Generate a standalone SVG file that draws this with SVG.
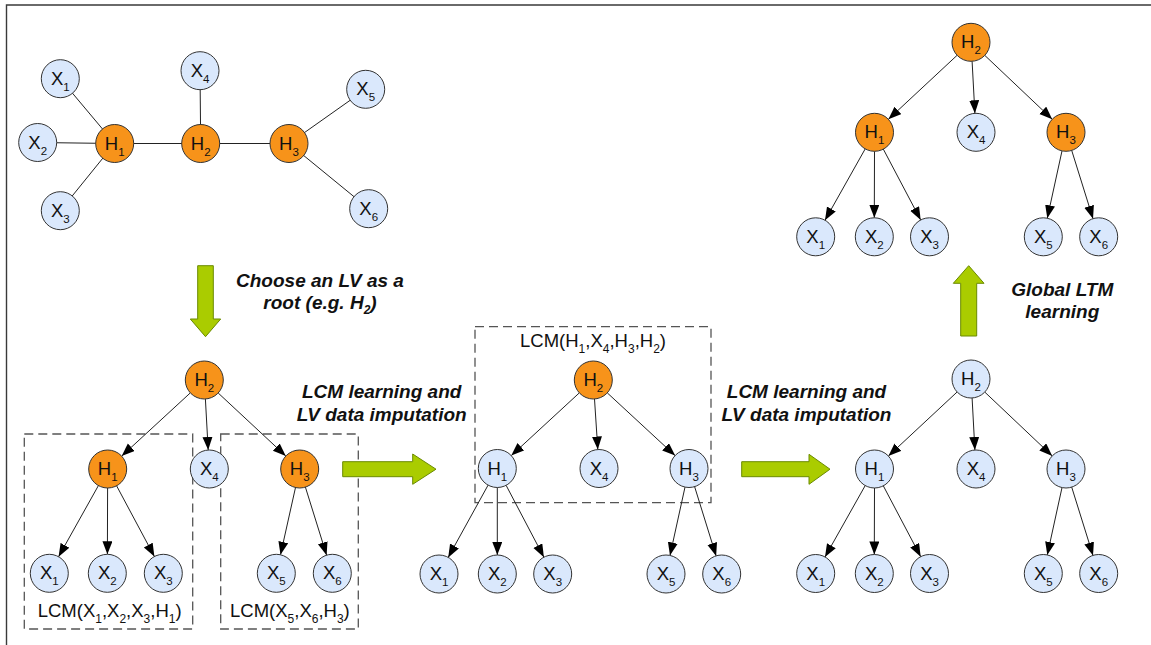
<svg xmlns="http://www.w3.org/2000/svg" width="1151" height="645" viewBox="0 0 1151 645">
<defs>
<marker id="ah" markerUnits="userSpaceOnUse" markerWidth="14" markerHeight="11" refX="13" refY="5" orient="auto">
<path d="M0,0 L13,5 L0,10 z" fill="#000"/>
</marker>
</defs>
<style>
.bg{fill:#fff}
.frame{stroke:#3a3a3a;stroke-width:1.4;fill:none}
.lv{fill:#F7931A;stroke:#333;stroke-width:1}
.ov{fill:#DAE8FC;stroke:#333;stroke-width:1}
.nt{font-family:"Liberation Sans",Arial,sans-serif;font-size:18.5px;fill:#111;text-anchor:middle}
.sub{font-size:11.5px}
.e{stroke:#222;stroke-width:1;fill:none}
.ea{stroke:#222;stroke-width:1;fill:none;marker-end:url(#ah)}
.box{stroke:#555;stroke-width:1.3;fill:none;stroke-dasharray:9 5}
.lab{font-family:"Liberation Sans",Arial,sans-serif;font-size:18.5px;fill:#111}
.lsub{font-size:12px}
.step{font-family:"Liberation Sans",Arial,sans-serif;font-size:19px;font-weight:bold;font-style:italic;fill:#111;text-anchor:middle}
.ssub{font-size:12px}
.garrow{fill:#AACC00;stroke:#6A8A00;stroke-width:1}
</style>
<rect class="bg" x="0" y="0" width="1151" height="645"/>
<path class="frame" d="M6.5,645 L6.5,5 L1151,5"/>

<!-- dashed boxes -->
<g id="boxes">
<rect class="box" x="24.3" y="434" width="168.4" height="195"/>
<rect class="box" x="220.7" y="434" width="137.6" height="195"/>
<rect class="box" x="475" y="326.7" width="236" height="176"/>
</g>

<!-- connectors -->
<g id="connectors">
<!-- top-left undirected graph -->
<line class="e" x1="60.3" y1="78.7" x2="114.7" y2="143.5"/>
<line class="e" x1="37.7" y1="142.5" x2="114.7" y2="143.5"/>
<line class="e" x1="60.3" y1="210.7" x2="114.7" y2="143.5"/>
<line class="e" x1="114.7" y1="143.5" x2="200.7" y2="143.5"/>
<line class="e" x1="200.7" y1="143.5" x2="289" y2="143.5"/>
<line class="e" x1="200" y1="70.7" x2="200.7" y2="143.5"/>
<line class="e" x1="289" y1="143.5" x2="365.7" y2="89.3"/>
<line class="e" x1="289" y1="143.5" x2="368.7" y2="208.7"/>
<!-- tree A -->
<line class="ea" x1="190.3" y1="392.9" x2="121.7" y2="456.1"/>
<line class="ea" x1="205.4" y1="399.0" x2="208.2" y2="450.0"/>
<line class="ea" x1="218.2" y1="393.0" x2="285.8" y2="456.0"/>
<line class="ea" x1="98.4" y1="485.6" x2="58.6" y2="556.7"/>
<line class="ea" x1="107.6" y1="488" x2="107.4" y2="554.3"/>
<line class="ea" x1="116.6" y1="485.8" x2="154.4" y2="556.5"/>
<line class="ea" x1="295.5" y1="487.5" x2="280.5" y2="554.8"/>
<line class="ea" x1="305.4" y1="487.1" x2="326.6" y2="555.2"/>
<!-- tree B -->
<line class="ea" x1="579.3" y1="392.9" x2="511.3" y2="455.6"/>
<line class="ea" x1="594.5" y1="399.0" x2="597.8" y2="449.5"/>
<line class="ea" x1="607.3" y1="392.9" x2="675.1" y2="455.6"/>
<line class="ea" x1="488.1" y1="485.1" x2="448.2" y2="557.4"/>
<line class="ea" x1="497.3" y1="487.5" x2="497.3" y2="555"/>
<line class="ea" x1="506.1" y1="485.3" x2="543.9" y2="557.2"/>
<line class="ea" x1="685.0" y1="487.1" x2="670.0" y2="555.4"/>
<line class="ea" x1="694.6" y1="486.6" x2="716.1" y2="555.9"/>
<!-- tree C -->
<line class="ea" x1="957.1" y1="392.0" x2="888.4" y2="456.0"/>
<line class="ea" x1="972.1" y1="398.0" x2="974.9" y2="450.0"/>
<line class="ea" x1="984.8" y1="392.1" x2="1052.2" y2="455.9"/>
<line class="ea" x1="865.2" y1="485.6" x2="825.0" y2="557.0"/>
<line class="ea" x1="874.5" y1="488" x2="874.3" y2="554.5"/>
<line class="ea" x1="883.3" y1="485.8" x2="920.7" y2="556.7"/>
<line class="ea" x1="1062.0" y1="487.6" x2="1047.3" y2="554.9"/>
<line class="ea" x1="1071.7" y1="487.1" x2="1093.0" y2="555.4"/>
<!-- tree D -->
<line class="ea" x1="957.1" y1="55.3" x2="888.4" y2="119.3"/>
<line class="ea" x1="972.1" y1="61.3" x2="974.9" y2="113.3"/>
<line class="ea" x1="984.8" y1="55.4" x2="1052.2" y2="119.2"/>
<line class="ea" x1="865.2" y1="148.9" x2="825.0" y2="220.3"/>
<line class="ea" x1="874.5" y1="151.3" x2="874.3" y2="217.8"/>
<line class="ea" x1="883.3" y1="149.1" x2="920.7" y2="220.0"/>
<line class="ea" x1="1062.0" y1="150.9" x2="1047.3" y2="218.2"/>
<line class="ea" x1="1071.7" y1="150.4" x2="1093.0" y2="218.7"/>
</g>

<!-- top-left graph nodes -->
<g id="g1-X1"><circle class="ov" cx="60.3" cy="78.7" r="19"/><text class="nt" x="60.3" y="84.7">X<tspan class="sub" dy="6">1</tspan></text></g>
<g id="g1-X2"><circle class="ov" cx="37.7" cy="142.5" r="19"/><text class="nt" x="37.7" y="148.5">X<tspan class="sub" dy="6">2</tspan></text></g>
<g id="g1-X3"><circle class="ov" cx="60.3" cy="210.7" r="19"/><text class="nt" x="60.3" y="216.7">X<tspan class="sub" dy="6">3</tspan></text></g>
<g id="g1-H1"><circle class="lv" cx="114.7" cy="143.5" r="19"/><text class="nt" x="114.7" y="149.5">H<tspan class="sub" dy="6">1</tspan></text></g>
<g id="g1-H2"><circle class="lv" cx="200.7" cy="143.5" r="19"/><text class="nt" x="200.7" y="149.5">H<tspan class="sub" dy="6">2</tspan></text></g>
<g id="g1-X4"><circle class="ov" cx="200" cy="70.7" r="19"/><text class="nt" x="200" y="76.7">X<tspan class="sub" dy="6">4</tspan></text></g>
<g id="g1-H3"><circle class="lv" cx="289" cy="143.5" r="19"/><text class="nt" x="289" y="149.5">H<tspan class="sub" dy="6">3</tspan></text></g>
<g id="g1-X5"><circle class="ov" cx="365.7" cy="89.3" r="19"/><text class="nt" x="365.7" y="95.3">X<tspan class="sub" dy="6">5</tspan></text></g>
<g id="g1-X6"><circle class="ov" cx="368.7" cy="208.7" r="19"/><text class="nt" x="368.7" y="214.7">X<tspan class="sub" dy="6">6</tspan></text></g>

<!-- tree A nodes -->
<g id="tA-H2"><circle class="lv" cx="204.3" cy="380" r="19"/><text class="nt" x="204.3" y="386">H<tspan class="sub" dy="6">2</tspan></text></g>
<g id="tA-H1"><circle class="lv" cx="107.7" cy="469" r="19"/><text class="nt" x="107.7" y="475">H<tspan class="sub" dy="6">1</tspan></text></g>
<g id="tA-X4"><circle class="ov" cx="209.3" cy="469" r="19"/><text class="nt" x="209.3" y="475">X<tspan class="sub" dy="6">4</tspan></text></g>
<g id="tA-H3"><circle class="lv" cx="299.7" cy="469" r="19"/><text class="nt" x="299.7" y="475">H<tspan class="sub" dy="6">3</tspan></text></g>
<g id="tA-X1"><circle class="ov" cx="49.3" cy="573.3" r="19"/><text class="nt" x="49.3" y="579.3">X<tspan class="sub" dy="6">1</tspan></text></g>
<g id="tA-X2"><circle class="ov" cx="107.3" cy="573.3" r="19"/><text class="nt" x="107.3" y="579.3">X<tspan class="sub" dy="6">2</tspan></text></g>
<g id="tA-X3"><circle class="ov" cx="163.3" cy="573.3" r="19"/><text class="nt" x="163.3" y="579.3">X<tspan class="sub" dy="6">3</tspan></text></g>
<g id="tA-X5"><circle class="ov" cx="276.3" cy="573.3" r="19"/><text class="nt" x="276.3" y="579.3">X<tspan class="sub" dy="6">5</tspan></text></g>
<g id="tA-X6"><circle class="ov" cx="332.3" cy="573.3" r="19"/><text class="nt" x="332.3" y="579.3">X<tspan class="sub" dy="6">6</tspan></text></g>

<!-- tree B nodes -->
<g id="tB-H2"><circle class="lv" cx="593.3" cy="380" r="19"/><text class="nt" x="593.3" y="386">H<tspan class="sub" dy="6">2</tspan></text></g>
<g id="tB-H1"><circle class="ov" cx="497.3" cy="468.5" r="19"/><text class="nt" x="497.3" y="474.5">H<tspan class="sub" dy="6">1</tspan></text></g>
<g id="tB-X4"><circle class="ov" cx="599" cy="468.5" r="19"/><text class="nt" x="599" y="474.5">X<tspan class="sub" dy="6">4</tspan></text></g>
<g id="tB-H3"><circle class="ov" cx="689" cy="468.5" r="19"/><text class="nt" x="689" y="474.5">H<tspan class="sub" dy="6">3</tspan></text></g>
<g id="tB-X1"><circle class="ov" cx="439" cy="574" r="19"/><text class="nt" x="439" y="580">X<tspan class="sub" dy="6">1</tspan></text></g>
<g id="tB-X2"><circle class="ov" cx="497.3" cy="574" r="19"/><text class="nt" x="497.3" y="580">X<tspan class="sub" dy="6">2</tspan></text></g>
<g id="tB-X3"><circle class="ov" cx="552.7" cy="574" r="19"/><text class="nt" x="552.7" y="580">X<tspan class="sub" dy="6">3</tspan></text></g>
<g id="tB-X5"><circle class="ov" cx="666" cy="574" r="19"/><text class="nt" x="666" y="580">X<tspan class="sub" dy="6">5</tspan></text></g>
<g id="tB-X6"><circle class="ov" cx="721.7" cy="574" r="19"/><text class="nt" x="721.7" y="580">X<tspan class="sub" dy="6">6</tspan></text></g>

<!-- tree C nodes -->
<g id="tC-H2"><circle class="ov" cx="971" cy="379" r="19"/><text class="nt" x="971" y="385">H<tspan class="sub" dy="6">2</tspan></text></g>
<g id="tC-H1"><circle class="ov" cx="874.5" cy="469" r="19"/><text class="nt" x="874.5" y="475">H<tspan class="sub" dy="6">1</tspan></text></g>
<g id="tC-X4"><circle class="ov" cx="976" cy="469" r="19"/><text class="nt" x="976" y="475">X<tspan class="sub" dy="6">4</tspan></text></g>
<g id="tC-H3"><circle class="ov" cx="1066" cy="469" r="19"/><text class="nt" x="1066" y="475">H<tspan class="sub" dy="6">3</tspan></text></g>
<g id="tC-X1"><circle class="ov" cx="815.7" cy="573.5" r="19"/><text class="nt" x="815.7" y="579.5">X<tspan class="sub" dy="6">1</tspan></text></g>
<g id="tC-X2"><circle class="ov" cx="874.3" cy="573.5" r="19"/><text class="nt" x="874.3" y="579.5">X<tspan class="sub" dy="6">2</tspan></text></g>
<g id="tC-X3"><circle class="ov" cx="929.5" cy="573.5" r="19"/><text class="nt" x="929.5" y="579.5">X<tspan class="sub" dy="6">3</tspan></text></g>
<g id="tC-X5"><circle class="ov" cx="1043.3" cy="573.5" r="19"/><text class="nt" x="1043.3" y="579.5">X<tspan class="sub" dy="6">5</tspan></text></g>
<g id="tC-X6"><circle class="ov" cx="1098.7" cy="573.5" r="19"/><text class="nt" x="1098.7" y="579.5">X<tspan class="sub" dy="6">6</tspan></text></g>

<!-- tree D nodes -->
<g id="tD-H2"><circle class="lv" cx="971" cy="42.3" r="19"/><text class="nt" x="971" y="48.3">H<tspan class="sub" dy="6">2</tspan></text></g>
<g id="tD-H1"><circle class="lv" cx="874.5" cy="132.3" r="19"/><text class="nt" x="874.5" y="138.3">H<tspan class="sub" dy="6">1</tspan></text></g>
<g id="tD-X4"><circle class="ov" cx="976" cy="132.3" r="19"/><text class="nt" x="976" y="138.3">X<tspan class="sub" dy="6">4</tspan></text></g>
<g id="tD-H3"><circle class="lv" cx="1066" cy="132.3" r="19"/><text class="nt" x="1066" y="138.3">H<tspan class="sub" dy="6">3</tspan></text></g>
<g id="tD-X1"><circle class="ov" cx="815.7" cy="236.8" r="19"/><text class="nt" x="815.7" y="242.8">X<tspan class="sub" dy="6">1</tspan></text></g>
<g id="tD-X2"><circle class="ov" cx="874.3" cy="236.8" r="19"/><text class="nt" x="874.3" y="242.8">X<tspan class="sub" dy="6">2</tspan></text></g>
<g id="tD-X3"><circle class="ov" cx="929.5" cy="236.8" r="19"/><text class="nt" x="929.5" y="242.8">X<tspan class="sub" dy="6">3</tspan></text></g>
<g id="tD-X5"><circle class="ov" cx="1043.3" cy="236.8" r="19"/><text class="nt" x="1043.3" y="242.8">X<tspan class="sub" dy="6">5</tspan></text></g>
<g id="tD-X6"><circle class="ov" cx="1098.7" cy="236.8" r="19"/><text class="nt" x="1098.7" y="242.8">X<tspan class="sub" dy="6">6</tspan></text></g>

<!-- box labels -->
<g id="labels">
<text class="lab" x="37.7" y="617">LCM(X<tspan class="lsub" dy="6">1</tspan><tspan dy="-6">,X</tspan><tspan class="lsub" dy="6">2</tspan><tspan dy="-6">,X</tspan><tspan class="lsub" dy="6">3</tspan><tspan dy="-6">,H</tspan><tspan class="lsub" dy="6">1</tspan><tspan dy="-6">)</tspan></text>
<text class="lab" x="230" y="617">LCM(X<tspan class="lsub" dy="6">5</tspan><tspan dy="-6">,X</tspan><tspan class="lsub" dy="6">6</tspan><tspan dy="-6">,H</tspan><tspan class="lsub" dy="6">3</tspan><tspan dy="-6">)</tspan></text>
<text class="lab" x="520" y="346.7">LCM(H<tspan class="lsub" dy="6">1</tspan><tspan dy="-6">,X</tspan><tspan class="lsub" dy="6">4</tspan><tspan dy="-6">,H</tspan><tspan class="lsub" dy="6">3</tspan><tspan dy="-6">,H</tspan><tspan class="lsub" dy="6">2</tspan><tspan dy="-6">)</tspan></text>
</g>

<!-- step arrows -->
<g id="arrow-down"><path class="garrow" d="M197.7,265.7 L213.3,265.7 L213.3,319 L220.7,319 L205.5,336.7 L190.3,319 L197.7,319 Z"/></g>
<g id="arrow-right-1"><path class="garrow" d="M342.7,461.7 L412.7,461.7 L412.7,454 L436,469.2 L412.7,484.3 L412.7,476.7 L342.7,476.7 Z"/></g>
<g id="arrow-right-2"><path class="garrow" d="M741.7,461.7 L809,461.7 L809,454.3 L830,469.2 L809,484.3 L809,476.7 L741.7,476.7 Z"/></g>
<g id="arrow-up"><path class="garrow" d="M960.7,336 L976.7,336 L976.7,283.3 L984,283.3 L968.7,265.7 L953.3,283.3 L960.7,283.3 Z"/></g>

<!-- step texts -->
<g id="step-texts">
<text class="step" x="320" y="286.7">Choose an LV as a</text>
<text class="step" x="320" y="309">root (e.g. H<tspan class="ssub" dy="5">2</tspan><tspan dy="-5">)</tspan></text>
<text class="step" x="381.7" y="398.3">LCM learning and</text>
<text class="step" x="381.7" y="420.7">LV data imputation</text>
<text class="step" x="806.5" y="398.3">LCM learning and</text>
<text class="step" x="806.5" y="421">LV data imputation</text>
<text class="step" x="1062.3" y="296">Global LTM</text>
<text class="step" x="1062.3" y="318.3">learning</text>
</g>
</svg>
